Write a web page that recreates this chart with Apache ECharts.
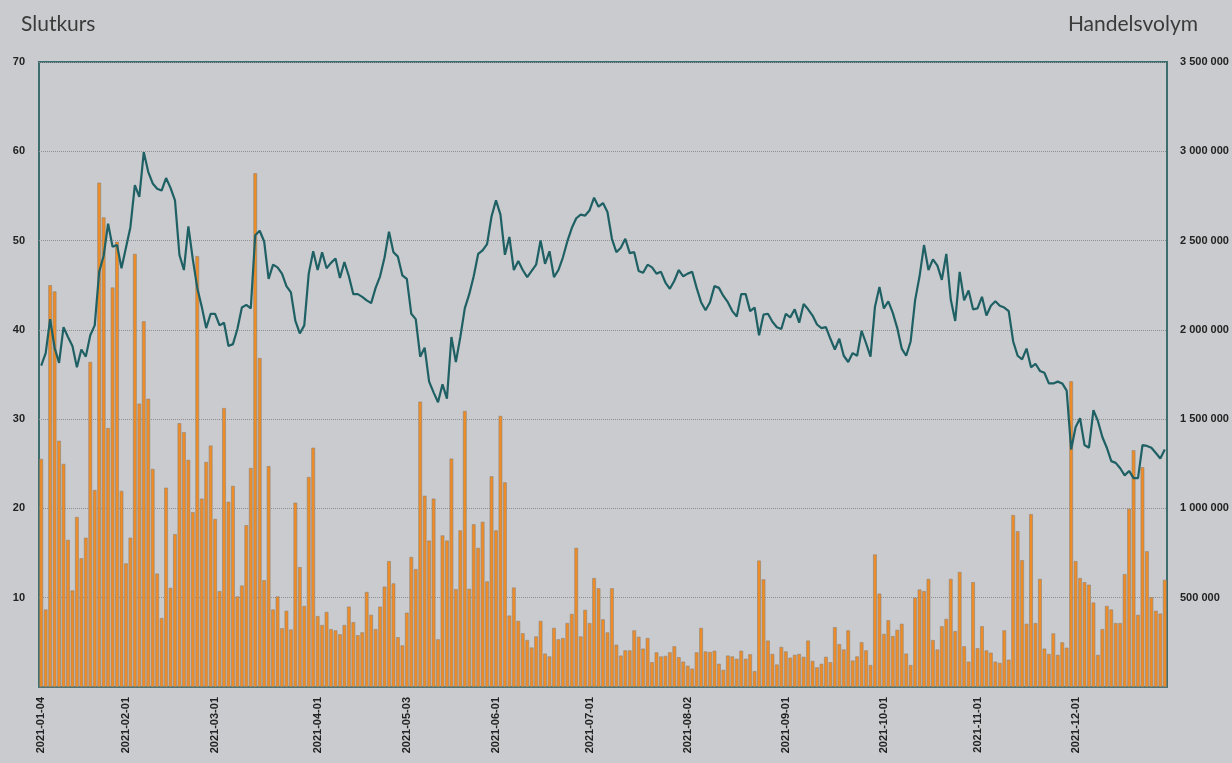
<!DOCTYPE html>
<html>
<head>
<meta charset="utf-8">
<script src="https://cdn.jsdelivr.net/npm/echarts@6/dist/echarts.min.js"></script>
<style>
  html, body { margin: 0; padding: 0; background: #c9cbce; }
  #chart { width: 1232px; height: 763px; }
</style>
</head>
<body>
<div id="chart"></div>
<script>
// Stockholm closing days 2021 that fall on weekdays
var holidays = ['2021-01-01', '2021-01-06', '2021-04-02', '2021-04-05', '2021-05-13', '2021-06-25', '2021-12-24', '2021-12-31'];

// closing price (Slutkurs), one per trading day
var close = [
    36.0, 37.4, 41.2, 38.0, 36.3, 40.3, 39.2, 38.2, 35.8, 37.8, 37.0, 39.4, 40.5, 46.5, 48.3, 51.9, 49.3, 49.5, 46.9, 49.2, 51.5, 56.2, 54.9, 59.9, 57.7, 56.4, 55.8,
    55.6, 57.0, 55.9, 54.5, 48.4, 46.7, 51.6, 47.9, 44.7, 42.6, 40.2, 41.8, 41.8, 40.5, 40.8, 38.2, 38.4, 40.1, 42.5, 42.8, 42.4, 50.6, 51.1, 49.9, 45.7,
    47.3, 47.0, 46.3, 44.9, 44.2, 41.0, 39.6, 40.5, 46.3, 48.8, 46.7, 48.7, 46.9, 47.5, 48.0, 45.8, 47.6, 46.0, 44.0, 44.0, 43.7, 43.3, 43.0, 44.7, 46.0, 48.1,
    51.0, 48.7, 48.2, 46.1, 45.7, 41.8, 41.2, 37.0, 38.0, 34.2, 33.0, 31.9, 33.9, 32.3, 39.2, 36.4, 39.2, 42.4, 44.0, 46.0, 48.5, 48.9, 49.6, 52.7, 54.5,
    52.9, 48.4, 50.4, 46.7, 47.7, 46.7, 45.9, 46.6, 47.3, 50.0, 47.4, 48.8, 45.9, 46.7, 48.1, 49.9, 51.4, 52.5, 52.9, 52.8, 53.4, 54.8, 53.8, 54.2, 53.2, 50.2,
    48.7, 49.2, 50.2, 48.6, 48.7, 46.6, 46.4, 47.3, 47.0, 46.3, 46.5, 45.3, 44.6, 45.5, 46.7, 46.0, 46.3, 46.5, 44.7, 43.1, 42.2, 43.1, 44.9, 44.7, 43.8,
    43.1, 42.1, 41.5, 44.0, 44.0, 42.1, 42.5, 39.4, 41.7, 41.8, 40.9, 40.3, 40.1, 41.8, 41.4, 42.3, 40.8, 42.9, 42.3, 41.6, 40.6, 40.2, 40.3, 39.0, 37.8, 39.0,
    37.1, 36.4, 37.4, 37.1, 39.9, 38.5, 37.0, 42.6, 44.8, 42.4, 43.2, 41.9, 40.2, 37.9, 37.1, 38.7, 43.3, 46.0, 49.5, 46.7, 47.9, 47.2, 45.6, 48.5, 43.4, 41.0,
    46.5, 43.3, 44.4, 42.3, 42.4, 43.7, 41.6, 42.7, 43.2, 42.7, 42.5, 42.1, 38.7, 37.1, 36.7, 37.9, 35.8, 36.2, 35.4, 35.2, 34.0, 34.0, 34.2, 34.0, 33.2,
    26.6, 29.1, 30.1, 27.1, 26.8, 31.0, 29.8, 28.0, 26.8, 25.3, 25.1, 24.5, 23.7, 24.2, 23.4, 23.4, 27.1, 27.0, 26.8, 26.2, 25.6, 26.6
];

// traded volume (Handelsvolym), thousands of shares
var volumeK = [
    1277, 434, 2250, 2215, 1379, 1249, 824, 541, 952, 721, 836, 1820, 1103, 2824, 2630, 1450, 2237, 2493, 1098, 692, 836, 2425, 1587, 2048, 1614, 1221, 635,
    386, 1116, 555, 856, 1477, 1427, 1272, 979, 2413, 1055, 1260, 1352, 941, 537, 1562, 1037, 1126, 507, 568, 906, 1226, 2877, 1842, 598, 1237,
    434, 507, 329, 427, 322, 1032, 671, 454, 1176, 1340, 397, 347, 420, 324, 317, 295, 347, 450, 363, 290, 306, 532, 404, 324, 450, 562,
    705, 580, 279, 233, 416, 728, 660, 1598, 1071, 820, 1055, 267, 849, 820, 1279, 548, 877, 1546, 550, 911, 779, 925, 591, 1180, 877,
    1518, 1146, 400, 557, 370, 301, 263, 221, 283, 370, 187, 171, 331, 267, 274, 358, 409, 779, 283, 432, 358, 610, 553, 379, 306, 553,
    237, 176, 205, 205, 317, 281, 215, 274, 139, 194, 171, 174, 194, 228, 167, 142, 119, 103, 194, 331, 199, 196, 203, 130, 96,
    176, 171, 158, 203, 158, 183, 89, 708, 603, 260, 185, 126, 224, 199, 164, 180, 185, 169, 260, 146, 110, 130, 169, 139, 335, 240,
    210, 317, 148, 171, 251, 205, 123, 742, 523, 297, 374, 285, 320, 354, 187, 123, 500, 546, 537, 605, 263, 210, 340, 381, 605, 313,
    644, 228, 142, 587, 217, 340, 205, 192, 142, 135, 317, 153, 963, 872, 710, 354, 968, 358, 605, 215, 185, 300, 180, 250, 220,
    1712, 705, 610, 587, 573, 473, 180, 324, 454, 434, 358, 358, 632, 998, 1326, 404, 1231, 760, 502, 427, 411, 600
];

var leftTicks = [10, 20, 30, 40, 50, 60, 70];

function pad(n) { return n < 10 ? '0' + n : '' + n; }

// trading days of 2021
var days = [];
var d = new Date(Date.UTC(2021, 0, 1));
while (d.getUTCFullYear() === 2021) {
    var wd = d.getUTCDay();
    var s = d.getUTCFullYear() + '-' + pad(d.getUTCMonth() + 1) + '-' + pad(d.getUTCDate());
    if (wd !== 0 && wd !== 6 && holidays.indexOf(s) < 0) {
        days.push(s);
    }
    d.setUTCDate(d.getUTCDate() + 1);
}

// label only the first trading day of every month
var firstOfMonth = {};
days.forEach(function (day, i) {
    if (i === 0 || days[i - 1].slice(5, 7) !== day.slice(5, 7)) {
        firstOfMonth[i] = true;
    }
});

function spaced(v) {
    return String(v).replace(/\B(?=(\d{3})+(?!\d))/g, ' ');
}

var chart = echarts.init(document.getElementById('chart'));

var option = {
    backgroundColor: '#c9cbce',
    animation: false,
    title: [
        { text: 'Slutkurs', left: 16, top: 9, textStyle: { fontFamily: 'Lato', fontWeight: 'normal', fontSize: 21, color: '#3b3b3b' } },
        { text: 'Handelsvolym', right: 29, top: 9, textStyle: { fontFamily: 'Lato', fontWeight: 'normal', fontSize: 21, color: '#3b3b3b' } }
    ],
    grid: {
        left: 39,
        right: 65,
        top: 62,
        bottom: 76,
        show: true,
        borderColor: '#3d6d6c',
        borderWidth: 2
    },
    xAxis: {
        type: 'category',
        data: days,
        boundaryGap: true,
        axisLine: { lineStyle: { color: '#4b7574', width: 2 } },
        axisTick: { show: false },
        axisLabel: {
            rotate: 90,
            interval: function (index) { return !!firstOfMonth[index]; },
            fontFamily: 'Liberation Sans',
            fontWeight: 'bold',
            fontSize: 11,
            color: '#222',
            margin: 10
        }
    },
    yAxis: [
        {
            type: 'value',
            min: 0,
            max: 70,
            interval: 10,
            position: 'left',
            axisLine: { show: false },
            axisTick: { show: false },
            axisLabel: {
                fontFamily: 'Liberation Sans',
                fontWeight: 'bold',
                fontSize: 11,
                color: '#222',
                margin: 14,
                formatter: function (v) { return leftTicks.indexOf(v) >= 0 ? v : ''; }
            },
            splitLine: { lineStyle: { color: '#8d8f92', type: 'dotted', width: 1 } }
        },
        {
            type: 'value',
            min: 0,
            max: 3500,
            interval: 500,
            position: 'right',
            axisLine: { show: false },
            axisTick: { show: false },
            axisLabel: {
                fontFamily: 'Liberation Sans',
                fontWeight: 'bold',
                fontSize: 11,
                color: '#222',
                margin: 13,
                formatter: function (v) { return v === 0 ? '' : spaced(v * 1000); }
            },
            splitLine: { show: false }
        }
    ],
    series: [
        {
            name: 'Handelsvolym',
            type: 'bar',
            yAxisIndex: 1,
            data: volumeK,
            barCategoryGap: '18%',
            itemStyle: {
                color: '#f08c26',
                borderColor: '#8e8376',
                borderWidth: 0.6
            }
        },
        {
            name: 'Slutkurs',
            type: 'line',
            yAxisIndex: 0,
            data: close,
            showSymbol: false,
            symbol: 'none',
            z: 5,
            lineStyle: { color: '#1f6064', width: 2.2 }
        }
    ]
};

chart.setOption(option);
</script>
</body>
</html>
